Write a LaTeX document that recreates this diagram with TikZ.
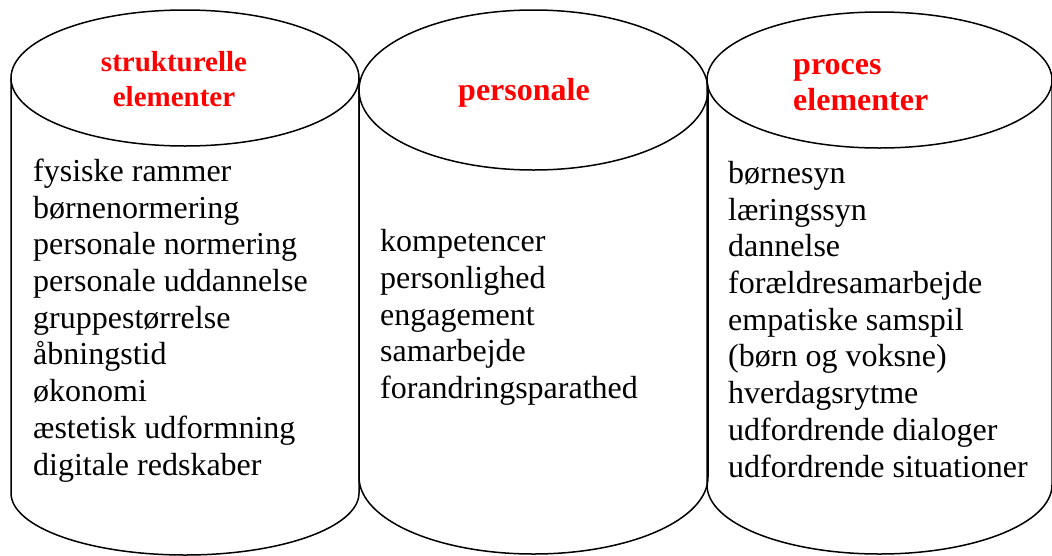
\documentclass[tikz,border=0pt]{standalone}
\usepackage{fontspec}
\setmainfont{Liberation Serif}
\usepackage{xcolor}
\usetikzlibrary{positioning}

\tikzset{
  can/.style={line width=1.5pt, black},
  heading/.style={red, inner sep=0pt, font=\fontsize{32}{36}\selectfont\bfseries},
  itemlist/.style={align=left, anchor=base west, inner sep=0pt, font=\fontsize{32}{36.7}\selectfont},
}

\begin{document}
\begin{tikzpicture}[x=1pt, y=-1pt]
    \useasboundingbox (0,0) rectangle (1052,555);
    % left can
    \draw [can] (185,78) ellipse [x radius=174, y radius=68];
    \draw [can] (11,78) -- (11,493) arc [start angle=180, end angle=0, x radius=174, y radius=62] -- (359,78);
    % middle can
    \draw [can] (533.5,90) ellipse [x radius=174.5, y radius=80];
    \draw [can] (359,90) -- (359,477) arc [start angle=180, end angle=0, x radius=174.5, y radius=77] -- (708,90);
    % right can
    \draw [can] (879.5,80) ellipse [x radius=172.5, y radius=68];
    \draw [can] (707,80) -- (707,485) arc [start angle=180, end angle=0, x radius=172.5, y radius=69] -- (1052,80);

    % headings (base = last line)
    \node [heading, font=\fontsize{29}{35}\selectfont\bfseries, align=center, anchor=base] (strhead) at (174,106) {strukturelle\\elementer};
    \node [heading, anchor=base] (perhead) at (524,100) {personale};
    \node [heading, align=left, anchor=base west] (prohead) at (793,110) {proces\\elementer};

    \node [itemlist] (strlist) at (33,475) {fysiske rammer\\b\o rnenormering\\personale normering\\personale uddannelse\\gruppest\o rrelse\\\aa bningstid\\\o konomi\\\ae stetisk udformning\\digitale redskaber};
    \node [itemlist] (perlist) at (380,398.5) {kompetencer\\personlighed\\engagement\\samarbejde\\forandringsparathed};
    \node [itemlist] (prolist) at (728,477) {b\o rnesyn\\l\ae ringssyn\\dannelse\\for\ae ldresamarbejde\\empatiske samspil\\(b\o rn og voksne)\\hverdagsrytme\\udfordrende dialoger\\udfordrende situationer};
\end{tikzpicture}
\end{document}
